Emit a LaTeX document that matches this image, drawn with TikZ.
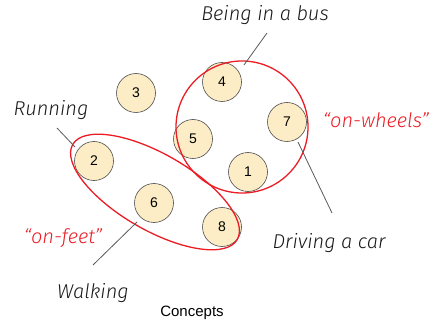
\documentclass[tikz,border=0pt]{standalone}
\usepackage{fontspec}
\setmainfont{Liberation Sans}
\newfontfamily\thinfont{Fira Sans Light}
\definecolor{conceptfill}{RGB}{253,237,199}
\definecolor{groupred}{RGB}{236,28,36}

\begin{document}
\begin{tikzpicture}[x=1pt, y=1pt,
    conceptnode/.style={circle, draw=black!70, fill=conceptfill, semithick, minimum size=39pt, inner sep=0pt, font=\fontsize{14}{14}\selectfont},
    labelnode/.style={font=\thinfont\itshape\fontsize{20}{20}\selectfont, text=black!90},
    groupnode/.style={labelnode, text=groupred},
    pointer/.style={draw=black!65, line width=0.8pt},
    groupring/.style={draw=groupred, line width=1.3pt},
]
\useasboundingbox (0,0) rectangle (430,324);

%Nodes
\node[conceptnode] (c4) at (222,242) {4};
\node[conceptnode] (c3) at (136,231) {3};
\node[conceptnode] (c7) at (287,202) {7};
\node[conceptnode] (c5) at (193,185) {5};
\node[conceptnode] (c2) at (94,163) {2};
\node[conceptnode] (c1) at (248,152) {1};
\node[conceptnode] (c6) at (154,121) {6};
\node[conceptnode] (c8) at (222,97) {8};

%Groups
\draw[groupring] (242,197) circle (66);
\draw[groupring, rotate around={-30:(155,132)}] (155,132) ellipse (95 and 38);

%Labels
\node[labelnode] (bus) at (265,309) {Being in a bus};
\node[labelnode] (running) at (51,214) {Running};
\node[labelnode] (driving) at (329,81) {Driving a car};
\node[labelnode] (walking) at (93,31) {Walking};
\node[groupnode] (wheels) at (376,204) {“on-wheels”};
\node[groupnode] (feet) at (63,86) {“on-feet”};
\node[font=\fontsize{15}{15}\selectfont] (concepts) at (192,11) {Concepts};

%Lines
\coordinate (bus-a) at (267,291);
\coordinate (bus-b) at (244,259);
\coordinate (running-a) at (57,196);
\coordinate (running-b) at (75,177);
\coordinate (driving-a) at (298,182);
\coordinate (driving-b) at (332,111);
\coordinate (walking-a) at (137,102);
\coordinate (walking-b) at (93,59);
\draw[pointer] (bus-a) -- (bus-b);
\draw[pointer] (running-a) -- (running-b);
\draw[pointer] (driving-a) -- (driving-b);
\draw[pointer] (walking-a) -- (walking-b);
\end{tikzpicture}
\end{document}
